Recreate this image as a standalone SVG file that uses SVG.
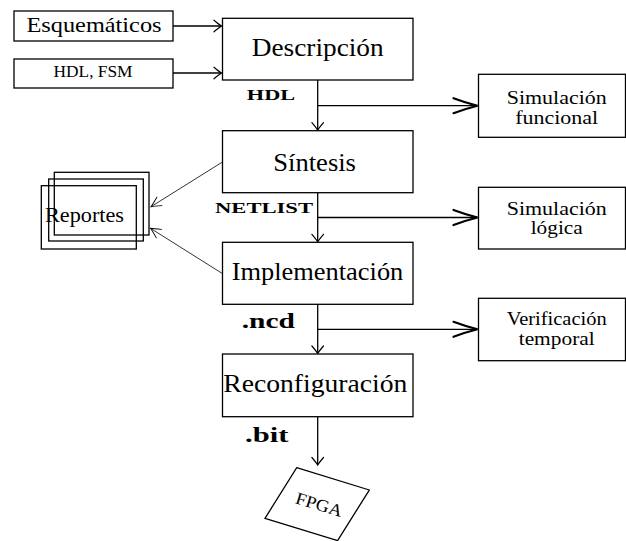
<svg xmlns="http://www.w3.org/2000/svg" width="626" height="541" viewBox="0 0 626 541" font-family="Liberation Serif, Times New Roman, serif">
<style>
.box{fill:#fff;stroke:#000;stroke-width:1.3}
.rep{fill:none;stroke:#000;stroke-width:1.3}
.t{fill:#000;text-anchor:middle}
.b{font-weight:bold;fill:#000;text-anchor:middle}
.ln{fill:none;stroke:#000;stroke-width:1.3}
.thin{fill:none;stroke:#000;stroke-width:0.8}
</style>
<defs>
<marker id="sm" markerUnits="userSpaceOnUse" viewBox="-10 -8 12 16" refX="0" refY="0" markerWidth="12" markerHeight="16" orient="auto" overflow="visible">
<path d="M -7.5 -5.8 Q -2.5 -1.5 0 0 Q -2.5 1.5 -7.5 5.8" fill="none" stroke="#000" stroke-width="1.2" stroke-linecap="round"/>
</marker>
<marker id="th" markerUnits="userSpaceOnUse" viewBox="-12 -8 14 16" refX="0" refY="0" markerWidth="14" markerHeight="16" orient="auto" overflow="visible">
<path d="M -10 -5 Q -3 -1.2 0 0 Q -3 1.2 -10 5" fill="none" stroke="#000" stroke-width="0.9" stroke-linecap="round"/>
</marker>
<marker id="lg" markerUnits="userSpaceOnUse" viewBox="-30 -10 32 20" refX="0" refY="0" markerWidth="32" markerHeight="20" orient="auto" overflow="visible">
<path d="M -24 -7.5 Q -12 -3 0 0 Q -12 3 -24 7.5" fill="none" stroke="#000" stroke-width="2.2" stroke-linecap="round"/>
</marker>
</defs>

<g id="connectors">
<line class="ln" x1="173" y1="26" x2="221.5" y2="26" marker-end="url(#sm)"/>
<line class="ln" x1="173" y1="73" x2="221.5" y2="73" marker-end="url(#sm)"/>
<line class="ln" x1="317.7" y1="80" x2="317.7" y2="130.2" marker-end="url(#sm)"/>
<line class="ln" x1="317.7" y1="192.7" x2="317.7" y2="241.8" marker-end="url(#sm)"/>
<line class="ln" x1="317.7" y1="304.3" x2="317.7" y2="353.5" marker-end="url(#sm)"/>
<line class="ln" x1="317.7" y1="416.7" x2="317.7" y2="465" marker-end="url(#sm)"/>
<line class="ln" x1="317.7" y1="105.7" x2="477.5" y2="105.7" marker-end="url(#lg)"/>
<line class="ln" x1="317.7" y1="217.5" x2="477.5" y2="217.5" marker-end="url(#lg)"/>
<line class="ln" x1="317.7" y1="329.3" x2="477.5" y2="329.3" marker-end="url(#lg)"/>
<line class="thin" x1="222" y1="162.3" x2="151" y2="206.7" marker-end="url(#th)"/>
<line class="thin" x1="222" y1="273.3" x2="150.5" y2="228.3" marker-end="url(#th)"/>
</g>

<g id="esquematicos">
<rect class="box" x="14" y="11" width="159" height="30"/>
<text class="t" x="94" y="32.3" font-size="21" textLength="135" lengthAdjust="spacingAndGlyphs">Esquemáticos</text>
</g>
<g id="hdlfsm">
<rect class="box" x="14" y="59" width="159" height="29"/>
<text class="t" x="93" y="77.3" font-size="16.5" textLength="79" lengthAdjust="spacingAndGlyphs">HDL, FSM</text>
</g>

<g id="descripcion">
<rect class="box" x="222.5" y="18.3" width="190.5" height="61.7"/>
<text class="t" x="317.7" y="55.5" font-size="25.5" textLength="132" lengthAdjust="spacingAndGlyphs">Descripción</text>
</g>
<g id="sintesis">
<rect class="box" x="222.5" y="130.7" width="190.5" height="62"/>
<text class="t" x="314.6" y="170.5" font-size="25.5" textLength="82.7" lengthAdjust="spacingAndGlyphs">Síntesis</text>
</g>
<g id="implementacion">
<rect class="box" x="222.5" y="242.3" width="190.5" height="62"/>
<text class="t" x="317.5" y="279.5" font-size="25.5" textLength="171.7" lengthAdjust="spacingAndGlyphs">Implementación</text>
</g>
<g id="reconfiguracion">
<rect class="box" x="222.5" y="354" width="190.5" height="62.7"/>
<text class="t" x="315.3" y="391.7" font-size="25.5" textLength="184" lengthAdjust="spacingAndGlyphs">Reconfiguración</text>
</g>

<g id="labels">
<text class="b" x="271" y="100" font-size="15.5" textLength="48.3" lengthAdjust="spacingAndGlyphs">HDL</text>
<text class="b" x="264" y="213.3" font-size="15.5" textLength="98" lengthAdjust="spacingAndGlyphs">NETLIST</text>
<text class="b" x="268.3" y="328.3" font-size="22" textLength="53.3" lengthAdjust="spacingAndGlyphs">.ncd</text>
<text class="b" x="266.7" y="441.7" font-size="22" textLength="43.3" lengthAdjust="spacingAndGlyphs">.bit</text>
</g>

<g id="simfuncional">
<rect class="box" x="478.5" y="74.3" width="147" height="63"/>
<text class="t" x="556.7" y="103.8" font-size="18" textLength="100" lengthAdjust="spacingAndGlyphs">Simulación</text>
<text class="t" x="556.7" y="124" font-size="18" textLength="83" lengthAdjust="spacingAndGlyphs">funcional</text>
</g>
<g id="simlogica">
<rect class="box" x="478.5" y="187.3" width="147" height="61.7"/>
<text class="t" x="556.7" y="214.5" font-size="18" textLength="100" lengthAdjust="spacingAndGlyphs">Simulación</text>
<text class="t" x="556.7" y="234" font-size="18" textLength="52" lengthAdjust="spacingAndGlyphs">lógica</text>
</g>
<g id="verificacion">
<rect class="box" x="478.5" y="298.3" width="147" height="62.4"/>
<text class="t" x="556.7" y="325" font-size="18" textLength="100" lengthAdjust="spacingAndGlyphs">Verificación</text>
<text class="t" x="556.7" y="344.5" font-size="18" textLength="76" lengthAdjust="spacingAndGlyphs">temporal</text>
</g>

<g id="reportes">
<rect class="rep" x="54.3" y="172.3" width="94.7" height="62.7"/>
<rect class="rep" x="48.7" y="179" width="94.6" height="62"/>
<rect class="rep" x="41.3" y="185.7" width="95" height="63.3"/>
<text class="t" x="84.5" y="221.7" font-size="20.5" textLength="79" lengthAdjust="spacingAndGlyphs">Reportes</text>
</g>

<g id="fpga">
<polygon class="box" points="296.7,467.7 369.3,490 337.6,540.6 265,518.3"/>
<text class="t" transform="translate(317.5,510) rotate(17)" x="0" y="0" font-size="17" textLength="48" lengthAdjust="spacingAndGlyphs">FPGA</text>
</g>
</svg>
